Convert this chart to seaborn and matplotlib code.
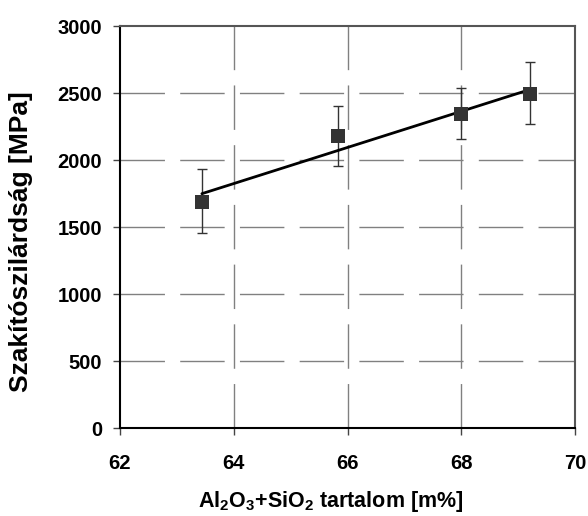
import numpy as np
import matplotlib
matplotlib.use("Agg")
import matplotlib.pyplot as plt
import seaborn as sns
import pandas as pd

# Data
oxide = [63.44, 65.84, 68.0, 69.2]
strength = [1690, 2180, 2345, 2495]
err_low = [1455, 1957, 2158, 2268]
err_high = [1930, 2405, 2540, 2733]
xticks = [62, 64, 66, 68, 70]
yticks = [0, 500, 1000, 1500, 2000, 2500, 3000]

sns.set_style("white")
plt.rcParams['font.family'] = ['Liberation Sans', 'DejaVu Sans']
plt.rcParams['mathtext.fontset'] = 'custom'
plt.rcParams['mathtext.rm'] = 'Liberation Sans:bold'
plt.rcParams['mathtext.it'] = 'Liberation Sans:bold'
plt.rcParams['mathtext.bf'] = 'Liberation Sans:bold'
plt.rcParams['text.color'] = 'black'
plt.rcParams['axes.labelcolor'] = 'black'

df = pd.DataFrame({"x": oxide, "y": strength})

fig = plt.figure(figsize=(5.88, 5.16), dpi=100)
ax = fig.add_axes([0.204, 0.1705, 0.774, 0.779])

# grid
for v in xticks[1:-1]:
    ax.axvline(v, color='#808080', lw=1.0, dashes=(32, 11), zorder=0)
for v in yticks[1:-1]:
    ax.axhline(v, color='#808080', lw=1.0, dashes=(32, 11), zorder=0)

# error bars
yerr = [np.array(strength) - np.array(err_low), np.array(err_high) - np.array(strength)]
ax.errorbar(oxide, strength, yerr=yerr, fmt='none', ecolor='#333333',
            elinewidth=1.0, capsize=3.5, capthick=1.0, zorder=2)

# trend line
sns.regplot(data=df, x="x", y="y", ax=ax, ci=None, truncate=True, scatter=False,
            line_kws=dict(color='black', lw=2.0, zorder=3))

# markers
sns.scatterplot(data=df, x="x", y="y", ax=ax, marker='s', s=110, color='#333333',
                edgecolor='#333333', linewidth=0, zorder=4)

ax.set_xlim(62, 70)
ax.set_ylim(0, 3000)
ax.set_xticks(xticks)
ax.set_yticks(yticks)
ax.set_xticklabels([str(t) for t in xticks], fontsize=14.5, fontweight='bold')
ax.set_yticklabels([str(t) for t in yticks], fontsize=14.5, fontweight='bold')
ax.tick_params(axis='both', direction='out', length=5, width=1, color='#444444',
               labelcolor='black', bottom=True, left=True)
ax.tick_params(axis='x', pad=14)
ax.tick_params(axis='y', pad=8)

for name, sp in ax.spines.items():
    sp.set_visible(True)
    sp.set_color('black' if name in ('left', 'bottom') else '#555555')
    sp.set_linewidth(1.5)

ax.set_xlabel(r'Al$_{2}$O$_{3}$+SiO$_{2}$ tartalom [m%]', fontsize=15.5,
              fontweight='bold', color='black')
ax.set_ylabel('Szakítószilárdság [MPa]', fontsize=19, fontweight='bold', color='black')
ax.xaxis.set_label_coords(0.464, -0.152)
ax.yaxis.set_label_coords(-0.19, 0.463)

fig.savefig('out.png', dpi=100)
